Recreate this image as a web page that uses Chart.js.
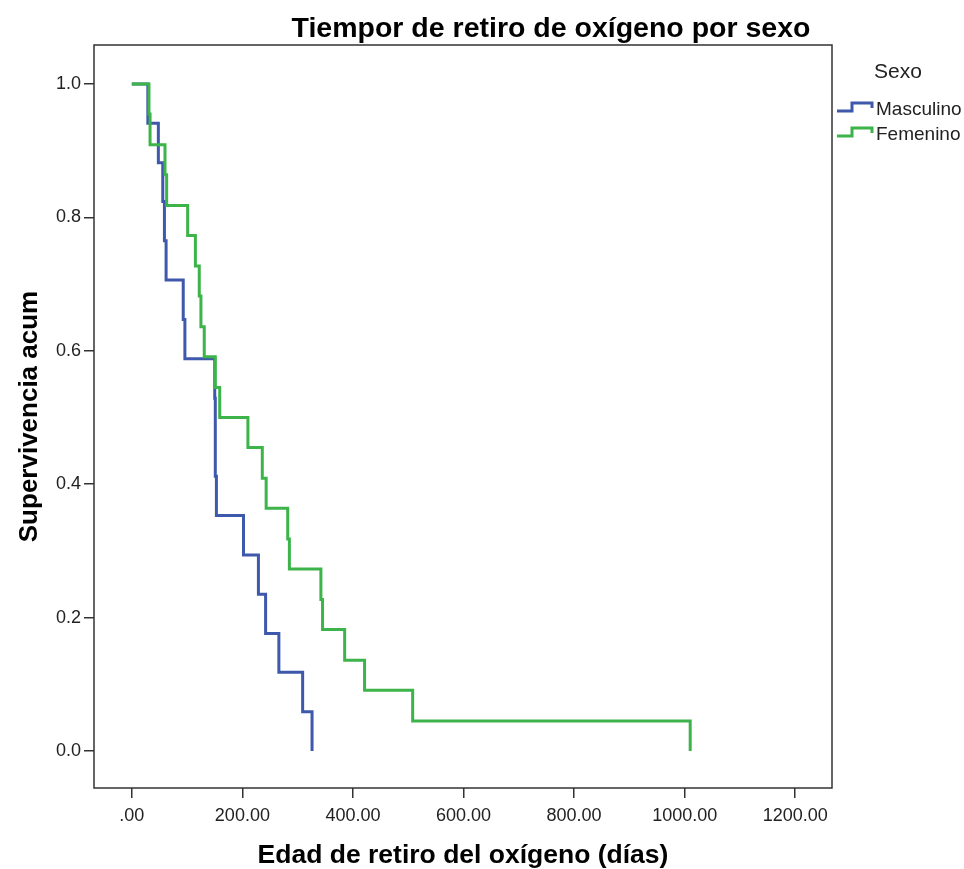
<!DOCTYPE html>
<html>
<head>
<meta charset="utf-8">
<script src="https://cdn.jsdelivr.net/npm/chart.js@4.4.1/dist/chart.umd.min.js"></script>
<style>
  html, body { margin: 0; padding: 0; background: #fff; }
</style>
</head>
<body>
<canvas id="kmChart" width="964" height="869"></canvas>
<script>
// Kaplan-Meier data (days, cumulative survival)
const masculinoDias = [0, 29, 48, 56, 59, 62, 93, 96, 150, 151, 151, 153, 202, 229, 242, 266, 309, 326];
const masculinoSuperv = [1, 0.941, 0.882, 0.824, 0.765, 0.706, 0.647, 0.588, 0.529, 0.471, 0.412, 0.353, 0.294, 0.235, 0.176, 0.118, 0.059, 0];

const femeninoDias = [0, 31, 33, 60, 63, 101, 115, 122, 125, 131, 151, 159, 210, 236, 243, 282, 285, 342, 345, 385, 421, 508, 1010];
const femeninoSuperv = [1, 0.955, 0.909, 0.864, 0.818, 0.773, 0.727, 0.682, 0.636, 0.591, 0.545, 0.5, 0.455, 0.409, 0.364, 0.318, 0.273, 0.227, 0.182, 0.136, 0.091, 0.045, 0];

// Axis ticks
const xTickValues = [0, 200, 400, 600, 800, 1000, 1200];
const xTickLabels = [".00", "200.00", "400.00", "600.00", "800.00", "1000.00", "1200.00"];
const yTickValues = [0, 0.2, 0.4, 0.6, 0.8, 1.0];
const yTickLabels = ["0.0", "0.2", "0.4", "0.6", "0.8", "1.0"];

const chartTitle = "Tiempor de retiro de oxígeno por sexo";
const legendTitle = "Sexo";

const colorMasc = "#3e58ac";
const colorFem = "#3cb44a";
const axisColor = "#333";
const fontFamily = "'Liberation Sans', Arial, sans-serif";

function toPoints(xs, ys) {
  return xs.map((x, i) => ({ x: x, y: ys[i] }));
}

// Frame, title and legend drawn around the plot area
const decorPlugin = {
  id: "decor",
  afterDraw(chart) {
    const { ctx, chartArea: a } = chart;
    ctx.save();

    // box around plot
    ctx.strokeStyle = axisColor;
    ctx.lineWidth = 1.5;
    ctx.strokeRect(a.left, a.top, a.right - a.left, a.bottom - a.top);

    // title
    ctx.fillStyle = "#000";
    ctx.font = "bold 28.5px " + fontFamily;
    ctx.textAlign = "center";
    ctx.textBaseline = "alphabetic";
    ctx.fillText(chartTitle, 551, 37);

    // legend
    ctx.textAlign = "left";
    ctx.fillStyle = "#222";
    ctx.font = "21px " + fontFamily;
    ctx.fillText(legendTitle, 874, 78);

    ctx.font = "19px " + fontFamily;
    const baselines = [115, 140];
    chart.data.datasets.forEach((ds, i) => {
      const b = baselines[i];
      ctx.strokeStyle = ds.borderColor;
      ctx.lineWidth = 3;
      ctx.beginPath();
      ctx.moveTo(837, b - 4);
      ctx.lineTo(852, b - 4);
      ctx.lineTo(852, b - 12);
      ctx.lineTo(872, b - 12);
      ctx.lineTo(872, b - 7);
      ctx.stroke();
      ctx.fillStyle = "#222";
      ctx.fillText(ds.label, 876, b);
    });

    ctx.restore();
  }
};

const kmChart = new Chart(document.getElementById("kmChart"), {
  type: "line",
  data: {
    datasets: [
      {
        label: "Masculino",
        data: toPoints(masculinoDias, masculinoSuperv),
        borderColor: colorMasc,
        borderWidth: 3,
        stepped: true,
        pointRadius: 0,
        fill: false,
        order: 2
      },
      {
        label: "Femenino",
        data: toPoints(femeninoDias, femeninoSuperv),
        borderColor: colorFem,
        borderWidth: 3,
        stepped: true,
        pointRadius: 0,
        fill: false,
        order: 1
      }
    ]
  },
  options: {
    responsive: false,
    animation: false,
    layout: { padding: { top: 45, right: 132, bottom: 0, left: 0 } },
    plugins: {
      legend: { display: false },
      title: { display: false },
      tooltip: { enabled: false }
    },
    scales: {
      x: {
        type: "linear",
        min: -68.4,
        max: 1266.5,
        afterBuildTicks: (axis) => { axis.ticks = xTickValues.map(v => ({ value: v })); },
        afterFit: (axis) => { axis.height = 81; },
        ticks: {
          callback: (v, i) => xTickLabels[i],
          font: { size: 18, family: fontFamily },
          color: "#222",
          padding: 7,
          maxRotation: 0,
          autoSkip: false
        },
        grid: { drawOnChartArea: false, tickLength: 10, color: axisColor, lineWidth: 1.5 },
        border: { display: false },
        title: {
          display: true,
          text: "Edad de retiro del oxígeno (días)",
          font: { size: 26.5, weight: "bold", family: fontFamily, lineHeight: 1.0 },
          color: "#000",
          padding: { top: 0, bottom: 0 }
        }
      },
      y: {
        type: "linear",
        min: -0.0555,
        max: 1.0585,
        afterBuildTicks: (axis) => { axis.ticks = yTickValues.map(v => ({ value: v })); },
        afterFit: (axis) => { axis.width = 94; },
        ticks: {
          callback: (v, i) => yTickLabels[i],
          font: { size: 18, family: fontFamily },
          color: "#222",
          padding: 3
        },
        grid: { drawOnChartArea: false, tickLength: 10, color: axisColor, lineWidth: 1.5 },
        border: { display: false },
        title: {
          display: true,
          text: "Supervivencia acum",
          font: { size: 26, weight: "bold", family: fontFamily, lineHeight: 1.0 },
          color: "#000",
          padding: { top: 17, bottom: 0 }
        }
      }
    }
  },
  plugins: [decorPlugin]
});
</script>
</body>
</html>
